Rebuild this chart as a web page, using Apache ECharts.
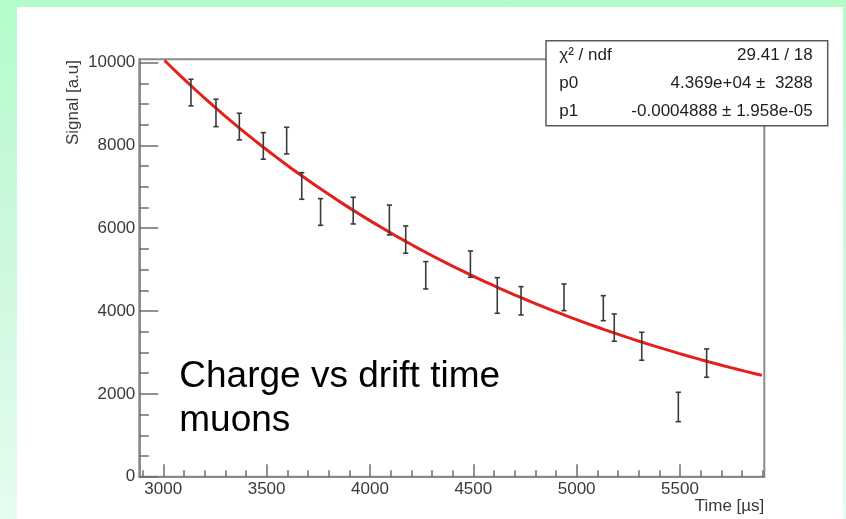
<!DOCTYPE html>
<html>
<head>
<meta charset="utf-8">
<script src="https://cdn.jsdelivr.net/npm/echarts@6/dist/echarts.min.js"></script>
<style>
  html, body { margin: 0; padding: 0; }
  body {
    width: 846px; height: 519px; overflow: hidden;
    background: linear-gradient(to bottom, #b3fdcb 0%, #c9f8da 40%, #e6fcef 100%);
  }
  #chart { width: 846px; height: 519px; }
</style>
</head>
<body>
<div id="chart"></div>
<script>
// Measured signal per drift-time bin, with its uncertainty
const timeUs    = [3134, 3255, 3368, 3484, 3597, 3670, 3761, 3919, 4094, 4173,
                   4270, 4486, 4616, 4731, 4939, 5129, 5182, 5315, 5492, 5629];
const signal    = [9277, 8785, 8455, 7988, 8117, 7021, 6393, 6426, 6200, 5726,
                   4864, 5134, 4377, 4248, 4332, 4070, 3600, 3150, 1684, 2743];
const signalErr = [ 322,  331,  322,  321,  322,  321,  322,  322,  360,  330,
                    330,  318,  430,  342,  322,  302,  330,  338,  355,  342];

// Exponential fit  f(t) = p0 * exp(p1 * t)
const fitP0 = 4.369e4;
const fitP1 = -0.0004888;
const fitRange = [3010, 5890];

// Axis ticks
const xMajorTicks = [3000, 3500, 4000, 4500, 5000, 5500];
const xMinorTicks = [2900, 3100, 3200, 3300, 3400, 3600, 3700, 3800, 3900, 4100,
                     4200, 4300, 4400, 4600, 4700, 4800, 4900, 5100, 5200, 5300,
                     5400, 5600, 5700, 5800, 5900];
const yMajorTicks = [0, 2000, 4000, 6000, 8000, 10000];
const yMinorTicks = [500, 1000, 1500, 2500, 3000, 3500, 4500, 5000, 5500,
                     6500, 7000, 7500, 8500, 9000, 9500];
const xRange = [2884, 5908];
const yRange = [0, 10080];

// Fit-box rows
const statsRows = [
  ['χ² / ndf', '29.41 / 18'],
  ['p0', '4.369e+04 ±  3288'],
  ['p1', '-0.0004888 ± 1.958e-05']
];

const FONT = '"Liberation Sans", Arial, Helvetica, sans-serif';
const AXIS_GRAY = '#8a8a8a';
const LABEL_COLOR = '#3a3a3a';
const plainNumber = function (v) { return String(v); };

const fitCurve = [];
const nSteps = 80;
for (let i = 0; i <= nSteps; i++) {
  const t = fitRange[0] + (fitRange[1] - fitRange[0]) * i / nSteps;
  fitCurve.push([t, fitP0 * Math.exp(fitP1 * t)]);
}
const points = timeUs.map((t, i) => [t, signal[i], signalErr[i]]);

const chart = echarts.init(document.getElementById('chart'), null, { renderer: 'canvas' });

const baseX = {
  type: 'value', gridIndex: 0, position: 'bottom',
  min: xRange[0], max: xRange[1],
  splitLine: { show: false }
};
const baseY = {
  type: 'value', gridIndex: 0, position: 'left',
  min: yRange[0], max: yRange[1],
  splitLine: { show: false }
};

const option = {
  animation: false,
  backgroundColor: 'transparent',
  grid: {
    left: 139.3, top: 59.3, right: 846 - 764.3, bottom: 519 - 476.7,
    show: true, borderColor: AXIS_GRAY, borderWidth: 2,
    backgroundColor: 'transparent'
  },
  xAxis: [
    Object.assign({}, baseX, {
      axisLine: { show: true, lineStyle: { color: AXIS_GRAY, width: 2 } },
      axisTick: { show: true, inside: true, length: 12.5, customValues: xMajorTicks,
                  lineStyle: { color: '#6e6e6e', width: 1.5 } },
      axisLabel: { show: true, customValues: xMajorTicks, margin: 4, formatter: plainNumber,
                   color: LABEL_COLOR, fontSize: 17, fontFamily: FONT }
    }),
    Object.assign({}, baseX, {
      axisLine: { show: false },
      axisTick: { show: true, inside: true, length: 6.5, customValues: xMinorTicks,
                  lineStyle: { color: '#6e6e6e', width: 1.5 } },
      axisLabel: { show: false }
    })
  ],
  yAxis: [
    Object.assign({}, baseY, {
      axisLine: { show: true, lineStyle: { color: AXIS_GRAY, width: 2 } },
      axisTick: { show: true, inside: true, length: 19, customValues: yMajorTicks,
                  lineStyle: { color: '#6e6e6e', width: 1.5 } },
      axisLabel: { show: true, customValues: yMajorTicks, margin: 4, formatter: plainNumber,
                   color: LABEL_COLOR, fontSize: 17, fontFamily: FONT }
    }),
    Object.assign({}, baseY, {
      axisLine: { show: false },
      axisTick: { show: true, inside: true, length: 9.5, customValues: yMinorTicks,
                  lineStyle: { color: '#6e6e6e', width: 1.5 } },
      axisLabel: { show: false }
    })
  ],
  series: [
    {
      name: 'fit',
      type: 'line',
      xAxisIndex: 0, yAxisIndex: 0,
      data: fitCurve,
      showSymbol: false,
      smooth: false,
      lineStyle: { color: '#e3201b', width: 3, cap: 'round' },
      z: 3
    },
    {
      name: 'signal',
      type: 'custom',
      xAxisIndex: 0, yAxisIndex: 0,
      data: points,
      encode: { x: 0, y: 1 },
      z: 4,
      renderItem: function (params, api) {
        const t = api.value(0), v = api.value(1), e = api.value(2);
        const top = api.coord([t, v + e]);
        const bot = api.coord([t, v - e]);
        const cap = 2.6;
        const style = { stroke: '#3a3a3a', lineWidth: 1.6 };
        return {
          type: 'group',
          children: [
            { type: 'line', shape: { x1: top[0], y1: top[1], x2: bot[0], y2: bot[1] }, style: style },
            { type: 'line', shape: { x1: top[0] - cap, y1: top[1], x2: top[0] + cap, y2: top[1] }, style: style },
            { type: 'line', shape: { x1: bot[0] - cap, y1: bot[1], x2: bot[0] + cap, y2: bot[1] }, style: style }
          ]
        };
      }
    }
  ],
  graphic: [
    // white page area
    { type: 'rect', z: -100, silent: true,
      shape: { x: 17, y: 7, width: 826, height: 512 },
      style: { fill: '#ffffff' } },
    // axis titles
    { type: 'text', z: 50, x: 764.3, y: 506.7,
      style: { text: 'Time [µs]', align: 'right', verticalAlign: 'middle',
               font: '17px ' + FONT, fill: LABEL_COLOR } },
    { type: 'text', z: 50, x: 73, y: 60, rotation: Math.PI / 2,
      style: { text: 'Signal [a.u]', align: 'right', verticalAlign: 'middle',
               font: '17px ' + FONT, fill: LABEL_COLOR } },
    // annotation
    { type: 'text', z: 50, x: 179.3, y: 376.7,
      style: { text: 'Charge vs drift time', align: 'left', verticalAlign: 'middle',
               font: '37px ' + FONT, fill: '#000000' } },
    { type: 'text', z: 50, x: 179.3, y: 421,
      style: { text: 'muons', align: 'left', verticalAlign: 'middle',
               font: '37px ' + FONT, fill: '#000000' } },
    // fit statistics box
    { type: 'rect', z: 60,
      shape: { x: 546, y: 40.7, width: 281.7, height: 85 },
      style: { fill: '#ffffff', stroke: '#5a5a5a', lineWidth: 1.5 } }
  ].concat(statsRows.flatMap((row, i) => [
    { type: 'text', z: 61, x: 559.3, y: 55 + i * 28.35,
      style: { text: row[0], align: 'left', verticalAlign: 'middle',
               font: '17px ' + FONT, fill: '#1e1e1e' } },
    { type: 'text', z: 61, x: 812.7, y: 55 + i * 28.35,
      style: { text: row[1], align: 'right', verticalAlign: 'middle',
               font: '17px ' + FONT, fill: '#1e1e1e' } }
  ]))
};

chart.setOption(option);
</script>
</body>
</html>
